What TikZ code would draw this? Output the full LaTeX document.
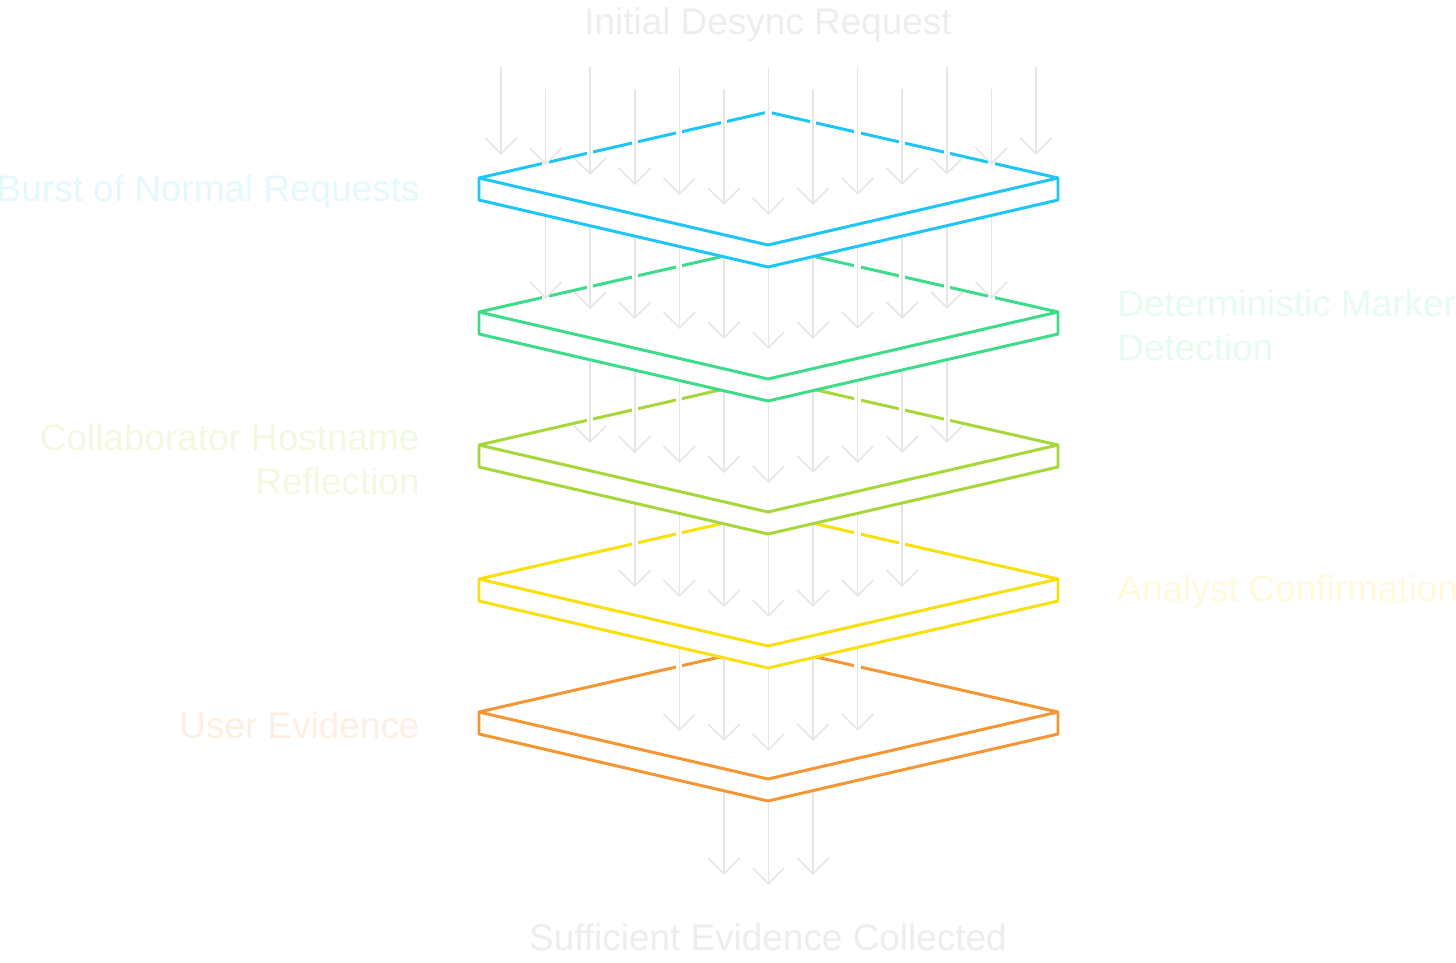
\documentclass[tikz,border=0pt]{standalone}
\usepackage{fontspec}
\setmainfont{Liberation Sans}
\usetikzlibrary{arrows.meta}

\definecolor{pblue}{HTML}{1EC6F7}
\definecolor{pgreen}{HTML}{3DDC8A}
\definecolor{plime}{HTML}{A6D83A}
\definecolor{pyellow}{HTML}{F7E00C}
\definecolor{porange}{HTML}{F59634}
\definecolor{arrowgray}{HTML}{E6E6E6}

\tikzset{
  flow/.style={draw=arrowgray, line width=0.45pt, -{Straight Barb[length=4.5pt,width=9pt]},
    preaction={draw=white, line width=1.8pt, -}},
  plate/.style={line width=0.85pt, fill=white, line join=round},
  lbl/.style={font=\fontsize{10.5}{12.5}\selectfont}
}

% one layer: y of the side corners, colour
\newcommand\layerplate[2]{
  \filldraw[plate, draw=#2] (479,#1) -- (768,#1-66) -- (1058,#1) -- (1058,#1+22)
    -- (768,#1+89) -- (479,#1+22) -- cycle;
  \draw[plate, fill=none, draw=#2] (479,#1) -- (768,#1+67) -- (1058,#1);
}

\begin{document}
\begin{tikzpicture}[x=0.01cm, y=-0.01cm]
	\useasboundingbox (0,0) rectangle (1456,963);

	% arrows and plates, drawn from the bottom up
	\foreach \k/\y/\c in {5/0/none, 4/712/porange, 3/579/pyellow, 2/445/plime, 1/312/pgreen, 0/178/pblue} {
		\ifnum\k<5 \layerplate{\y}{\c} \fi
		\pgfmathtruncatemacro{\last}{12-\k}
		\foreach \i in {\k,...,\last} {
			\pgfmathsetmacro{\xx}{501+44.58*\i}
			\pgfmathsetmacro{\yend}{215+134*\k-0.225*abs(\xx-768)}
			\pgfmathsetmacro{\ystart}{\k==0 ? (mod(\i,2)==0 ? 67 : 89) : \yend-134}
			\draw[flow] (\xx,\ystart) -- (\xx,\yend);
		}
	}

	\node[lbl, text=black!7] (top) at (768,25) {Initial Desync Request};
	\node[lbl, text=black!7] (bottom) at (768,937) {Sufficient Evidence Collected};

	\node[lbl, text=pblue!12, anchor=east] (burst) at (432,192) {Burst of Normal Requests};
	\node[lbl, text=pgreen!12, anchor=west, align=left] (marker) at (1105,325) {Deterministic Marker\\Detection};
	\node[lbl, text=plime!15, anchor=east, align=right] (collab) at (432,459) {Collaborator Hostname\\Reflection};
	\node[lbl, text=pyellow!15, anchor=west] (analyst) at (1105,592) {Analyst Confirmation};
	\node[lbl, text=porange!15, anchor=east] (user) at (432,725) {User Evidence};

\end{tikzpicture}
\end{document}
